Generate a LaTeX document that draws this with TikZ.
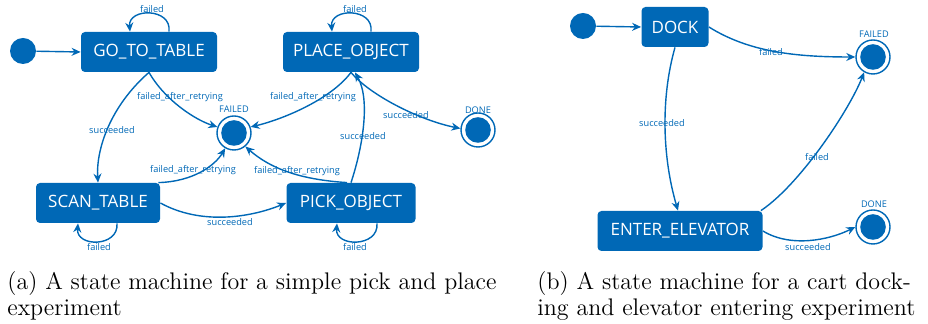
\documentclass[tikz,border=0pt]{standalone}
\usepackage{fontspec}
\newfontfamily\smfont{Open Sans}
\usetikzlibrary{arrows.meta}
\definecolor{smblue}{RGB}{0,104,182}

\tikzset{
  state/.style={rectangle, rounded corners=2pt, fill=smblue, text=white,
    font=\smfont\fontsize{8.5}{10}\selectfont, minimum height=20pt, inner sep=0pt},
  initial/.style={circle, fill=smblue, minimum size=13pt, inner sep=0pt},
  final/.style={circle, draw=smblue, line width=0.7pt, minimum size=17pt, inner sep=0pt,
    path picture={\fill[smblue] (path picture bounding box.center) circle (6.4pt);}},
  lbl/.style={text=smblue, font=\smfont\fontsize{4.6}{5}\selectfont, inner sep=0pt},
  trans/.style={draw=smblue, line width=0.7pt, -{Stealth[length=4.5pt,width=4pt]}},
  capt/.style={font=\fontsize{12}{13.3}\selectfont, align=left, inner sep=0pt, anchor=north west}
}

\begin{document}
\begin{tikzpicture}[x=0.5pt,y=-0.5pt]
 \useasboundingbox (0,0) rectangle (928,324);

 % pick and place
 \node[initial] (s1) at (23,51) {};
 \node[state, minimum width=68pt] (go) at (149,52) {GO\_TO\_TABLE};
 \node[state, minimum width=68pt] (place) at (351,52) {PLACE\_OBJECT};
 \node[state, minimum width=62pt] (scan) at (98,203) {SCAN\_TABLE};
 \node[state, minimum width=64.5pt] (pick) at (351,203) {PICK\_OBJECT};
 \node[final] (f1) at (234,133) {};
 \node[final] (d1) at (478,130) {};
 \node[lbl] (f1name) at (234,109) {FAILED};
 \node[lbl] (d1name) at (478,110) {DONE};

 \draw[trans] (s1) -- (go.west);
 \draw[trans] ([xshift=10pt]go.north) .. controls +(3,-24) and +(-2,-24) .. ([xshift=-9.5pt]go.north);
 \draw[trans] ([xshift=10pt]place.north) .. controls +(3,-24) and +(-2,-24) .. ([xshift=-9.5pt]place.north);
 \draw[trans] ([xshift=9.5pt]scan.south) .. controls +(2,24) and +(-2,24) .. ([xshift=-10pt]scan.south);
 \draw[trans] ([xshift=13pt]pick.south) .. controls +(2,24) and +(-2,24) .. ([xshift=-7pt]pick.south);
 \draw[trans] (go.south) .. controls +(-39,34) and +(-2,-33) .. (scan.north);
 \draw[trans] (go.south) .. controls +(16,28) and +(-22,-7) .. (f1.160);
 \draw[trans] (place.south) .. controls +(-21,28) and +(30,-7) .. (f1.20);
 \draw[trans] (place.south) .. controls +(19,23) and +(-40,-8) .. (d1.175);
 \draw[trans] (pick.north) .. controls +(11,-33) and +(16,28) .. ([xshift=2pt]place.south);
 \draw[trans] ([xshift=-1pt]scan.north east) .. controls +(35,-1) and +(-10,17) .. (f1.240);
 \draw[trans] ([xshift=-2pt]pick.north) .. controls +(-47,-3) and +(25,22) .. (f1.310);
 \draw[trans] (scan.east) .. controls +(40,22) and +(-37,15) .. (pick.west);

 \node[lbl] (l1) at (152,9) {failed};
 \node[lbl] (l2) at (355,9) {failed};
 \node[lbl] (l3) at (99,247) {failed};
 \node[lbl] (l4) at (355,247) {failed};
 \node[lbl] (l5) at (112,130) {succeeded};
 \node[lbl] (l6) at (180,97) {failed\_after\_retrying};
 \node[lbl] (l7) at (313,97) {failed\_after\_retrying};
 \node[lbl] (l8) at (406,115) {succeeded};
 \node[lbl] (l9) at (363,136) {succeeded};
 \node[lbl] (l10) at (193,170) {failed\_after\_retrying};
 \node[lbl] (l11) at (297,171) {failed\_after\_retrying};
 \node[lbl] (l12) at (230,222) {succeeded};

 % cart docking
 \node[initial] (s2) at (583,26) {};
 \node[state, minimum width=33.5pt] (dock) at (675,27) {DOCK};
 \node[state, minimum width=82.5pt] (enter) at (680,231) {ENTER\_ELEVATOR};
 \node[final] (f2) at (873,57) {};
 \node[final] (d2) at (873,227) {};
 \node[lbl] (f2name) at (874,34) {FAILED};
 \node[lbl] (d2name) at (874,204) {DONE};

 \draw[trans] (s2) -- (dock.west);
 \draw[trans] (dock.east) .. controls +(40,25) and +(-60,0) .. (f2.west);
 \draw[trans] (dock.south) .. controls +(-15,53) and +(-15,-51) .. ([xshift=-1pt]enter.north);
 \draw[trans] ([xshift=-1pt]enter.north east) .. controls +(39,-26) and +(-15,38) .. (f2.240);
 \draw[trans] (enter.east) .. controls +(28,17) and +(-26,13) .. (d2.west);

 \node[lbl] (m1) at (771,52) {failed};
 \node[lbl] (m2) at (662,123) {succeeded};
 \node[lbl] (m3) at (817,157) {failed};
 \node[lbl] (m4) at (808,247) {succeeded};

 % captions
 \node[capt] (capa) at (7,271) {(a) A state machine for a simple pick and place\\experiment};
 \node[capt] (capb) at (537,271) {(b) A state machine for a cart dock-\\ing and elevator entering experiment};
\end{tikzpicture}
\end{document}
